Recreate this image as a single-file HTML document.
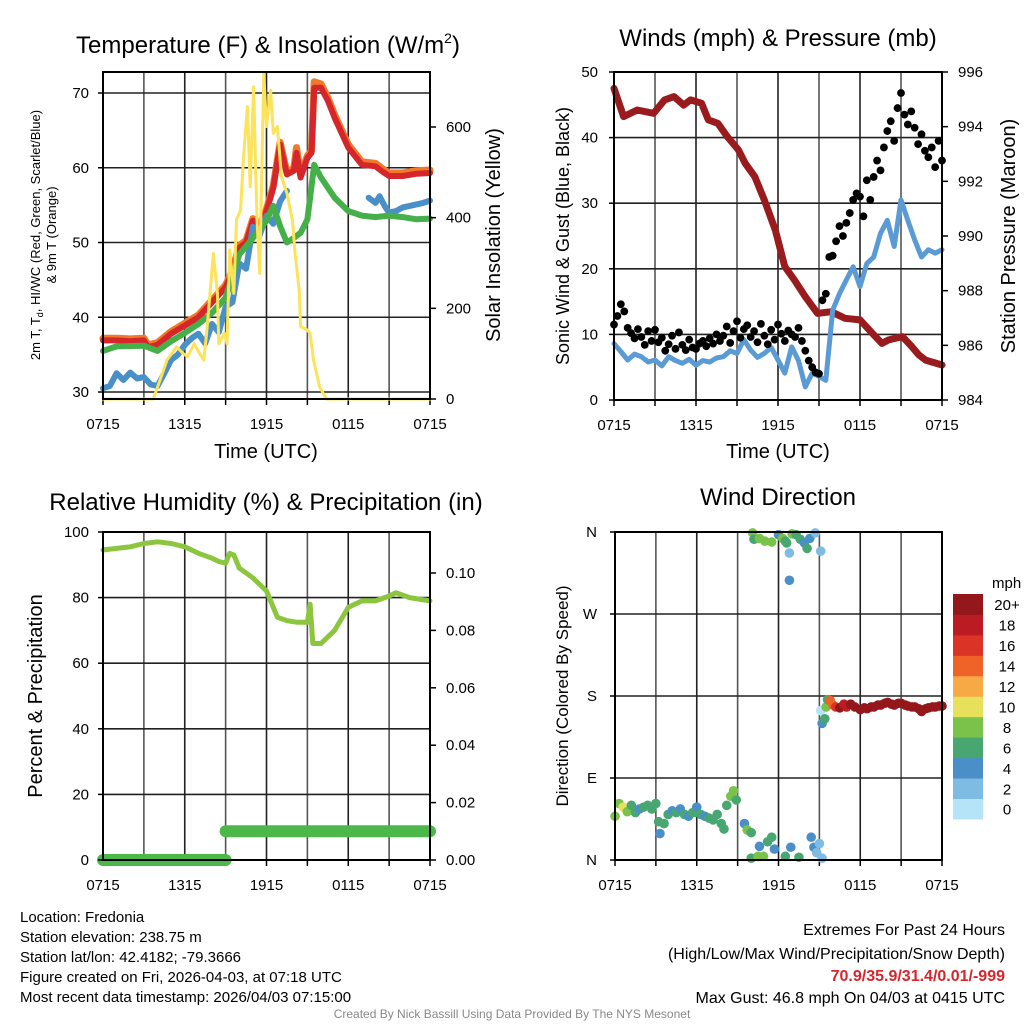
<!DOCTYPE html>
<html><head><meta charset="utf-8">
<style>
html,body{margin:0;padding:0;background:#fff;}
body{width:1024px;height:1024px;position:relative;overflow:hidden;font-family:"Liberation Sans",sans-serif;}
svg text{font-family:"Liberation Sans",sans-serif;}
</style></head>
<body>
<svg id="chart" width="1024" height="1024" viewBox="0 0 1024 1024" xmlns="http://www.w3.org/2000/svg">
<text x="268" y="53" font-size="24" text-anchor="middle">Temperature (F) &amp; Insolation (W/m<tspan font-size="14" dy="-10">2</tspan><tspan dy="10">)</tspan></text>
<text x="778" y="46" font-size="24" text-anchor="middle">Winds (mph) &amp; Pressure (mb)</text>
<text x="266" y="510" font-size="24" text-anchor="middle">Relative Humidity (%) &amp; Precipitation (in)</text>
<text x="778" y="505" font-size="24" text-anchor="middle">Wind Direction</text>

<text transform="translate(40,235) rotate(-90)" font-size="13" text-anchor="middle">2m T, T<tspan font-size="9" dy="3">d</tspan><tspan dy="-3">, HI/WC (Red, Green, Scarlet/Blue)</tspan></text>
<text transform="translate(56,235) rotate(-90)" font-size="13" text-anchor="middle">&amp; 9m T (Orange)</text>
<text transform="translate(500,235) rotate(-90)" font-size="20" text-anchor="middle">Solar Insolation (Yellow)</text>
<text x="266" y="458" font-size="20" text-anchor="middle">Time (UTC)</text>
<text transform="translate(569,236) rotate(-90)" font-size="18" text-anchor="middle">Sonic Wind &amp; Gust (Blue, Black)</text>
<text transform="translate(1015,236) rotate(-90)" font-size="20" text-anchor="middle">Station Pressure (Maroon)</text>
<text x="778" y="458" font-size="20" text-anchor="middle">Time (UTC)</text>
<text transform="translate(42,696) rotate(-90)" font-size="20" text-anchor="middle">Percent &amp; Precipitation</text>
<text transform="translate(568,696) rotate(-90)" font-size="17" text-anchor="middle">Direction (Colored By Speed)</text>
<text x="992" y="588" font-size="15">mph</text>

<g font-size="15">
<text x="20" y="922">Location: Fredonia</text>
<text x="20" y="942">Station elevation: 238.75 m</text>
<text x="20" y="962">Station lat/lon: 42.4182; -79.3666</text>
<text x="20" y="982">Figure created on Fri, 2026-04-03, at 07:18 UTC</text>
<text x="20" y="1002">Most recent data timestamp: 2026/04/03 07:15:00</text>
</g>
<g font-size="16" text-anchor="end">
<text x="1005" y="935">Extremes For Past 24 Hours</text>
<text x="1005" y="959">(High/Low/Max Wind/Precipitation/Snow Depth)</text>
<text x="1005" y="981" fill="#d7262b" font-weight="bold">70.9/35.9/31.4/0.01/-999</text>
<text x="1005" y="1003">Max Gust: 46.8 mph On 04/03 at 0415 UTC</text>
</g>
<text x="512" y="1018" font-size="12" fill="#888" text-anchor="middle">Created By Nick Bassill Using Data Provided By The NYS Mesonet</text>
</svg>
<script>
// ---------- data ----------
const timeTickLabels = ["0715","1315","1915","0115","0715"];
const timeTickHours = [0,6,12,18,24];

const tempLeftTicks = [30,40,50,60,70];
const solarRightTicks = [0,200,400,600];
const windLeftTicks = [0,10,20,30,40,50];
const presRightTicks = [984,986,988,990,992,994,996];
const rhLeftTicks = [0,20,40,60,80,100];
const precRightTicks = [0.00,0.02,0.04,0.06,0.08,0.10];
const dirTickLabels = ["N","E","S","W","N"];
const dirTickValues = [0,90,180,270,360];

const redT = [0,1,2,3,3.3,4,5,6,7,8,9,9.5,10,10.5,11,11.5,12,12.5,13,13.5,14,14.2,14.5,15,15.3,15.5,16,16.5,17,18,19,20,20.5,21,22,23,24];
const redV = [36.9,36.9,36.8,36.9,36.0,36.3,37.8,38.9,40.0,42.0,44.0,46.0,49.3,50.0,52.9,52.0,54.2,57.3,63.1,59.1,59.6,62.0,58.7,61.3,62,70.7,70.7,69,66.7,62.7,60.4,60.2,59.5,58.9,58.9,59.2,59.3];
const orangeV = [37.2,37.2,37.1,37.2,36.3,36.6,38.1,39.2,40.3,42.3,44.3,46.3,49.6,50.3,53.2,52.3,54.5,57.6,63.4,59.4,59.9,62.7,59.0,61.6,62.3,71.5,71.2,69.4,67.1,63.1,60.8,60.6,59.9,59.3,59.3,59.6,59.7];
const greenT = [0,1,3,4,5,6,7,8,9,10,11,12,12.5,13,13.5,14,14.5,15,15.5,16,17,18,19,20,21,22,23,24];
const greenV = [35.5,36.1,36.2,35.5,36.8,37.9,39.1,40.6,42.6,48.4,50.6,52.9,54.9,52.2,50.0,50.6,51.3,53.1,60.4,58.7,56.0,54.2,53.6,53.4,53.6,53.4,53.1,53.2];
const blueAT = [0,0.5,1,1.5,2,2.5,3,3.5,4,4.5,5,5.5,6,6.5,7,7.5,8,8.5,9,9.5,10,10.5,11,11.5,12,12.5,13,13.5];
const blueAV = [30.5,30.8,32.5,31.6,32.6,31.8,32.0,31.0,30.8,32.5,34.3,35.0,36.3,37.2,37.8,36.5,39.1,38.0,41.4,42.0,47.2,46.5,52.1,51.0,53.6,52.5,55.5,56.9];
const blueBT = [19.5,20,20.3,20.7,21,21.5,22,22.5,23,23.5,24];
const blueBV = [56.0,55.3,56.2,54.8,54.0,54.2,54.7,54.9,55.1,55.3,55.6];
const solarT = [0,3.7,4.7,5.4,5.9,6.2,6.7,7.1,7.4,7.6,8.1,8.4,8.5,8.9,9.1,9.3,9.6,9.8,10.1,10.3,10.6,10.8,11.05,11.3,11.5,11.8,12.0,12.3,12.5,12.8,13.1,13.5,13.9,14.1,14.4,14.5,15.0,15.2,15.45,15.9,16.4,24];
const solarV = [0,0,86,115,100,93,122,100,86,145,321,233,122,145,122,329,233,395,417,527,645,468,689,395,277,718,601,681,586,601,490,454,395,321,240,160,152,145,86,27,0,0];

const presT = [0,0.7,1.7,2.9,3.7,4.4,5.1,5.6,6.4,6.9,7.6,8.3,9.1,9.6,10.3,11.0,11.8,12.5,13.2,14.0,14.9,15.9,16.9,18.0,18.9,19.6,20.1,21.1,21.8,22.3,22.8,24];
const presV = [995.40,994.37,994.61,994.49,994.98,995.10,994.79,994.98,994.86,994.25,994.12,993.63,993.15,992.66,992.17,991.32,990.22,988.88,988.39,987.78,987.17,987.23,986.99,986.93,986.44,986.07,986.20,986.32,985.95,985.65,985.46,985.28];
const windT = [0,0.5,1,1.5,2,2.5,3,3.5,4,4.5,5,5.5,6,6.5,7,7.5,8,8.5,9,9.5,10,10.5,11,11.5,12,12.5,13,13.5,14,14.5,15,15.5,16,16.5,17,17.5,18,18.5,19,19.5,20,20.5,21,21.5,22,22.5,23,23.5,24];
const windV = [8.6,7.4,6.1,7.0,6.6,5.8,6.1,5.2,6.6,6.0,5.6,6.2,5.3,6.0,5.8,6.4,6.6,7.5,7.1,9.2,7.6,6.5,7.1,8.0,6.1,4.1,8.1,6.0,2.0,4.1,3.6,3.0,13.7,16.2,18.3,20.3,17.3,20.8,21.8,25.4,27.4,23.4,30.5,27.4,24.4,21.8,22.9,22.4,22.9];
const gustV = [11.5,12.8,14.6,13.5, 11.0,10.2,9.4,10.8, 9.6,8.4,10.5,9.0, 10.7,8.8,9.5,7.5, 8.5,9.8,7.8,10.3, 8.4,7.6,9.2,8.0, 7.8,8.6,9.0,8.2, 9.4,8.6,10.0,9.0, 9.8,11.2,8.7,10.5, 12.0,9.5,10.8,11.4, 9.6,10.5,8.8,11.6, 9.8,8.5,10.7,9.2, 11.5,10.1,9.0,10.6, 10.0,9.6,11.0,9.0, 7.5,6.0,5.0,4.2, 4.0,15.2,16.2,21.8, 22.0,24.2,26.5,25.0, 27.0,28.5,30.5,31.5, 31.0,28.0,33.5,30.5, 34.0,36.5,35.0,38.5, 41.0,42.5,39.5,44.5, 46.8,43.5,42.0,44.0, 41.5,39.0,40.5,38.0, 37.0,38.5,35.5,39.5, 36.5];

const rhT = [0,1,2,3,4,5,6,7,8,8.5,9,9.3,9.6,10,11,12,12.8,13.5,14.2,15,15.2,15.4,16,17,18,19,20,21,21.5,22.5,24];
const rhV = [94.5,95,95.5,96.5,97,96.5,95.5,93.5,92,91,90.5,93.5,93,89,86,82,74,73,72.5,72.5,78,66,66,70,77,79,79,80.5,81.5,80,79];
const precT = [0,9,9,24];
const precV = [0,0,0.01,0.01];

const dirT = [0,0.3,0.6,0.9,1.2,1.5,1.8,2.1,2.4,2.7,3.0,3.2,3.3,3.6,3.9,4.2,4.5,4.8,5.1,5.4,5.7,6.0,6.0,6.3,6.6,6.9,7.2,7.5,7.8,8.0,8.2,8.5,8.7,8.9,9.5,9.7,10.0,10.0,10.5,10.6,10.9,11.2,11.5,11.7,12.5,12.9,13.5,14.4,14.6,14.8,15.0,15.2,
 10.1,10.2,10.6,11.0,11.5,12.0,12.3,12.5,12.6,12.8,12.8,13.0,13.3,13.6,13.9,14.1,14.3,14.7,15.1,
 15.1,15.2,15.4,15.5,15.6,15.8,16.0,16.2,16.5,16.8,17.0,17.3,17.6,18.0,18.3,18.5,18.8,19.0,19.3,19.5,19.8,20.0,20.3,20.5,20.8,21.0,21.3,21.5,21.8,22.0,22.3,22.5,22.8,23.0,23.3,23.5,23.8,24.0];
const dirV = [48,62,58,53,60,52,56,58,60,56,62,42,29,40,50,54,52,56,50,48,52,52,58,50,48,46,44,50,40,34,60,70,76,66,40,33,30,2,4,15,4,20,25,12,4,14,3,25,14,8,18,2,
 359,352,353,350,349,357,353,350,348,337,307,358,357,352,348,342,353,359,339,
 164,150,155,168,176,175,170,168,167,171,168,171,168,165,167,166,168,168,170,170,172,173,171,170,172,172,170,169,168,168,166,163,166,167,168,168,169,169];
const dirS = [8,8,10,8,6,6,4,6,6,6,6,6,4,6,6,4,6,4,6,4,6,6,4,6,4,6,6,6,6,6,6,8,8,6,4,8,6,6,8,4,8,6,6,4,6,4,6,4,4,2,2,2,
 8,6,8,8,8,4,8,6,6,2,4,8,6,6,4,6,4,2,2,
 0,4,6,8,6,14,14,16,20,18,18,20,20,20,20,20,20,20,20,20,20,20,20,20,20,20,20,20,20,20,20,20,20,20,20,20,20,20];

const cbLabels = ["0","2","4","6","8","10","12","14","16","18","20+"];
const cbColors = ["#b5e3f8","#7fbce4","#4a8fc7","#48a771","#7bc24b","#e7e05b","#f6a944","#ef6329","#db3427","#bb1c24","#94171b"];

// ---------- drawing ----------
const svg = document.getElementById('chart');
const NS = 'http://www.w3.org/2000/svg';
function mk(tag, attrs, parent){
  const e = document.createElementNS(NS, tag);
  for (const k in attrs) e.setAttribute(k, attrs[k]);
  (parent||svg).appendChild(e);
  return e;
}
function lin(d0,d1,r0,r1){ return v => r0 + (v-d0)*(r1-r0)/(d1-d0); }

function panel(name, x0,x1,y0,y1, hLines){
  const g = mk('g', {});
  
  
  const xs = lin(0,24,x0,x1);
  for (let h=3; h<24; h+=3){
    const l = mk('line', {x1:xs(h), x2:xs(h), y1:y0, y2:y1, stroke: (h%6===0)?'#222':'#555', 'stroke-width':1.6}, g);
    
    
  }
  hLines.forEach(y => {
    const l = mk('line', {x1:x0, x2:x1, y1:y, y2:y, stroke:'#222', 'stroke-width':1.6}, g);
    
    
  });
  for (let h=0; h<=24; h+=3){
    mk('line', {x1:xs(h), x2:xs(h), y1:y1, y2:y1+6, stroke:'#000', 'stroke-width':1.5}, g);
  }
  timeTickHours.forEach((h,i) => {
    const t = mk('text', {x:xs(h), y:y1+30, 'font-size':15, 'text-anchor':'middle'}, g);
    t.textContent = timeTickLabels[i];
    
    
  });
  return {xs, g};
}
function frame(name,x0,x1,y0,y1){
  const r = mk('rect', {x:x0, y:y0, width:x1-x0, height:y1-y0, fill:'none', stroke:'#000', 'stroke-width':2});
  
  
}
function leftTicks(ticks, ys, x0, fmt, labelX){
  ticks.forEach(v => {
    mk('line', {x1:x0-5, x2:x0, y1:ys(v), y2:ys(v), stroke:'#000', 'stroke-width':1.5});
    const t = mk('text', {x:labelX, y:ys(v)+5, 'font-size':15, 'text-anchor':'end'});
    t.textContent = fmt(v);
    
    
  });
}
function rightTicks(ticks, ys, x1, fmt, labelX){
  ticks.forEach(v => {
    mk('line', {x1:x1, x2:x1+6, y1:ys(v), y2:ys(v), stroke:'#000', 'stroke-width':1.5});
    const t = mk('text', {x:labelX, y:ys(v)+5, 'font-size':15, 'text-anchor':'start'});
    t.textContent = fmt(v);
    
    
  });
}
function line(name, T, V, xs, ys, color, w){
  const pts = T.map((t,i) => xs(t).toFixed(1) + ',' + ys(V[i]).toFixed(1)).join(' ');
  const p = mk('polyline', {points:pts, fill:'none', stroke:color, 'stroke-width':w, 'stroke-linejoin':'round', 'stroke-linecap':'round'});
  
  
  return p;
}

// Panel 1: temperature
{
  const x0=103,x1=430,y0=72,y1=399;
  const ty = lin(30,70,392,93);
  const sy = lin(0,600,399,127);
  const {xs} = panel('temp', x0,x1,y0,y1, tempLeftTicks.map(ty));
  line('orange-9m-temp-line', redT, orangeV, xs, ty, '#f07a2a', 7);
  line('red-2m-temp-line', redT, redV, xs, ty, '#d7262b', 6);
  line('blue-windchill-line-a', blueAT, blueAV, xs, ty, '#4a90c8', 6);
  line('blue-windchill-line-b', blueBT, blueBV, xs, ty, '#4a90c8', 6);
  line('green-dewpoint-line', greenT, greenV, xs, ty, '#45b04a', 6);
  line('yellow-solar-line', solarT, solarV, xs, sy, '#fce35a', 3);
  frame('temp', x0,x1,y0,y1);
  leftTicks(tempLeftTicks, ty, x0, v=>String(v), 89);
  rightTicks(solarRightTicks, sy, x1, v=>String(v), 446);
}
// Panel 2: wind and pressure
{
  const x0=614,x1=942,y0=72,y1=400;
  const wy = lin(0,50,400,72);
  const py = lin(984,996,400,72);
  const {xs} = panel('wind', x0,x1,y0,y1, windLeftTicks.map(wy));
  line('pressure-line', presT, presV, xs, py, '#9a1b1e', 7);
  line('sonic-wind-line', windT, windV, xs, wy, '#5b9bd5', 5);
  const gg = mk('g', {});
  
  
  gustV.forEach((v,i) => {
    const c = mk('circle', {cx:xs(i*0.25), cy:wy(v), r:3.9, fill:'#000'}, gg);
    
    
  });
  frame('wind', x0,x1,y0,y1);
  leftTicks(windLeftTicks, wy, x0, v=>String(v), 598);
  rightTicks(presRightTicks, py, x1, v=>String(v), 958);
}
// Panel 3: RH & precip
{
  const x0=103,x1=430,y0=532,y1=860;
  const ry = lin(0,100,860,532);
  const qy = lin(0,0.1,860,573);
  const {xs} = panel('rh', x0,x1,y0,y1, rhLeftTicks.map(ry));
  let start = 0;
  for (let i=1;i<=precT.length;i++){
    if (i===precT.length || precV[i]!==precV[start]){
      line('precip-line', precT.slice(start,i), precV.slice(start,i), xs, qy, '#4cb84a', 12);
      start = i;
    }
  }
  line('rh-line', rhT, rhV, xs, ry, '#8cc63f', 5);
  frame('rh', x0,x1,y0,y1);
  leftTicks(rhLeftTicks, ry, x0, v=>String(v), 89);
  rightTicks(precRightTicks, qy, x1, v=>v.toFixed(2), 446);
}
// Panel 4: wind direction
{
  const x0=615,x1=942,y0=532,y1=860;
  const dy = lin(0,360,860,532);
  const {xs} = panel('dir', x0,x1,y0,y1, dirTickValues.map(dy));
  const gg = mk('g', {});
  
  
  dirT.forEach((t,i) => {
    const idx = Math.min(10, Math.round(dirS[i]/2));
    const c = mk('circle', {cx:xs(t), cy:dy(dirV[i]), r:4.8, fill:cbColors[idx]}, gg);
    
    
  });
  frame('dir', x0,x1,y0,y1);
  dirTickValues.forEach((v,i) => {
    mk('line', {x1:x0-5, x2:x0, y1:dy(v), y2:dy(v), stroke:'#000', 'stroke-width':1.5});
    const t = mk('text', {x:597, y:dy(v)+5, 'font-size':15, 'text-anchor':'end'});
    t.textContent = dirTickLabels[i];
    
    
  });
  const cb = mk('g', {});
  
  
  const bh = 20.45, top = 594;
  cbColors.forEach((c,i) => {
    const k = 10 - i;
    const r = mk('rect', {x:953, y:top + k*bh, width:30, height:bh+0.5, fill:c}, cb);
    
    
    const t = mk('text', {x:1007, y:top + k*bh + bh/2 + 6, 'font-size':15, 'text-anchor':'middle'}, cb);
    t.textContent = cbLabels[i];
    
    
  });
}
</script>
</body></html>
